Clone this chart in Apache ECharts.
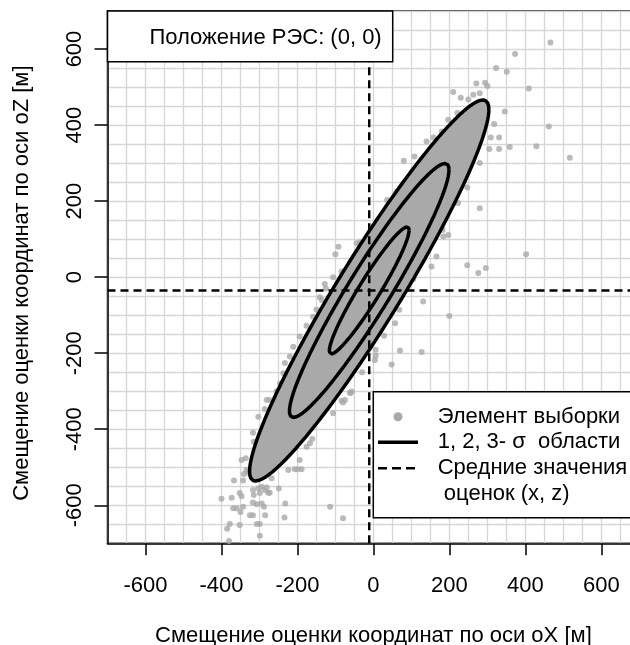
<!DOCTYPE html>
<html><head><meta charset="utf-8">
<script src="https://cdn.jsdelivr.net/npm/echarts@6/dist/echarts.min.js"></script>
<style>html,body{margin:0;padding:0;background:#fff}#c{width:630px;height:645px}</style>
</head><body><div id="c"></div>
<script>
// ---- data ----
const xTicks = [-600, -400, -200, 0, 200, 400, 600];
const zTicks = [-600, -400, -200, 0, 200, 400, 600];
const gridStep = 50;                // light grid every 50 m
const meanXZ = [-11, -35];          // mean of estimates (x, z)
const sigmaXZ = [105, 167];         // std dev of estimates (x, z)
const corrXZ = 0.95;                // correlation x-z
const sigmaLevels = [1, 2, 3];      // 1, 2, 3-sigma regions
const sampleX = [466,373,323,351,409,271,294,300,210,230,346,318,462,309,331,305,331,359,429,517,280,80,108,
  247,280,223,197,402,247,296,276,182,36,61,158,140,180,197,221,250,263,280,
  131,200,70,127,6,6,28,-106,-176,-194,-233,-62,-84,-36,-141,-136,-150,-159,-211,-220,-237,17,4,-57,-75,-106,180,184,166,153,210,-44,-84,68,57,105,118,
  -60,-80,-161,-194,-189,-207,-224,-249,-273,-286,-317,-315,-286,-347,-336,-334,-341,-330,-367,-343,-400,-373,-352,-347,-317,-315,-303,-294,-281,-277,-299,-317,-307,-294,-288,-343,-369,-360,-350,-325,-317,-285,-232,-234,-378,-352,-307,-299,-385,-299,-380,-114,-80,-268,-273,
  -303,-281,-167,-176,-199,-125,-128,-246,-255,-100,-92,-30,48,-190,-240];
const sampleZ = [617,587,550,540,496,509,511,503,487,472,436,403,396,367,367,337,337,342,344,314,300,306,317,
  236,181,195,111,60,31,24,11,124,203,225,367,357,383,414,432,467,480,484,
  -64,-102,-193,-197,-191,-206,-154,0,-128,-156,-226,-304,-325,91,-53,-60,-86,-104,-183,-209,-253,-140,-218,-301,-323,-358,129,107,54,28,195,89,15,-86,-121,-5,40,
  -305,-330,-426,-481,-505,-505,-507,-556,-567,-560,-409,-433,-347,-481,-476,-507,-518,-514,-535,-535,-583,-580,-568,-576,-560,-573,-555,-551,-553,-567,-568,-593,-597,-595,-604,-604,-608,-608,-618,-626,-626,-626,-595,-632,-649,-652,-649,-649,-662,-680,-694,-604,-634,-529,-323,
  -367,-323,-437,-446,-505,-30,-18,-280,-300,60,80,-250,-230,-420,-470];
const meanLineV = [[meanXZ[0], -700], [meanXZ[0], 700]];
const meanLineH = [[-700, meanXZ[1]], [700, meanXZ[1]]];

// ---- sigma-region outlines from (mean, sigma, correlation) ----
function sigmaEllipse(k) {
  const pts = [];
  const n = 180;
  const s = Math.sqrt(1 - corrXZ * corrXZ);
  for (let i = 0; i <= n; i++) {
    const t = 2 * Math.PI * i / n;
    pts.push([meanXZ[0] + k * sigmaXZ[0] * Math.cos(t),
              meanXZ[1] + k * sigmaXZ[1] * (corrXZ * Math.cos(t) + s * Math.sin(t))]);
  }
  return pts;
}
const ellipses = sigmaLevels.map(sigmaEllipse);
const sampleData = sampleX.map((x, i) => [x, sampleZ[i]]);

const FONT = '"Liberation Sans", Arial, sans-serif';
const FS = 22;
const GRAY = '#a9a9a9';
const GRID_COLOR = '#d6d6d6';

const chart = echarts.init(document.getElementById('c'), null, {renderer: 'canvas'});
const mainAxis = (name, ticks, isY) => ({
  type: 'value', min: -700, max: 700,
  name: name, nameLocation: 'middle', nameGap: isY ? 75 : 82, nameRotate: isY ? 90 : 0,
  nameTextStyle: Object.assign({fontFamily: FONT, fontSize: FS, color: '#000'}, isY ? {padding: [0, 12, 0, 0]} : {}),
  axisLine: {show: true, onZero: false, lineStyle: {color: '#000', width: 1.5}},
  axisTick: {show: true, length: isY ? 13 : 12, lineStyle: {color: '#000', width: 1.5}, customValues: ticks},
  axisLabel: Object.assign({show: true, margin: isY ? 22 : 32, fontFamily: FONT, fontSize: FS, color: '#000', customValues: ticks}, isY ? {rotate: 90} : {}),
  splitLine: {show: false}, z: 3
});
const gridAxis = () => ({
  type: 'value', min: -700, max: 700, interval: gridStep,
  axisLine: {show: false}, axisTick: {show: false}, axisLabel: {show: false},
  splitLine: {show: true, lineStyle: {color: GRID_COLOR, width: 1.3}}, z: 0
});
const option = {
  animation: false,
  backgroundColor: '#fff',
  grid: {left: 107.5, top: 11, right: -9.3, bottom: 101.7, show: true, borderColor: '#000', borderWidth: 1.5, backgroundColor: 'transparent', outerBoundsMode: 'none'},
  xAxis: [mainAxis('Смещение оценки координат по оси oX [м]', xTicks, false), gridAxis()],
  yAxis: [mainAxis('Смещение оценки координат по оси oZ [м]', zTicks, true), gridAxis()],
  series: [
    {
      type: 'custom', name: 'fill', z: 2,
      data: [[meanXZ[0], meanXZ[1]]],
      renderItem: function (params, api) {
        const outer = ellipses[ellipses.length - 1];
        return {type: 'polygon', shape: {points: outer.map(p => api.coord(p))}, style: {fill: GRAY}};
      },
      silent: true
    },
    {
      type: 'scatter', name: 'Элемент выборки', data: sampleData, symbol: 'circle', symbolSize: 6,
      itemStyle: {color: GRAY}, z: 3, silent: true
    },
  ].concat(ellipses.map((pts, i) => ({
      type: 'line', name: sigmaLevels[i] + '-σ', data: pts, showSymbol: false, smooth: false,
      lineStyle: {color: '#000', width: 3.5}, z: 5, silent: true
  }))).concat([
    {type: 'line', name: 'meanV', data: meanLineV, showSymbol: false, lineStyle: {color: '#000', width: 2.5, type: [8, 5]}, z: 6, silent: true},
    {type: 'line', name: 'meanH', data: meanLineH, showSymbol: false, lineStyle: {color: '#000', width: 2.5, type: [8, 5]}, z: 6, silent: true}
  ]),
  graphic: [
    {type: 'rect', z: 100, shape: {x: 107.5, y: 11, width: 285.2, height: 50.7}, style: {fill: '#fff', stroke: '#000', lineWidth: 1.5}},
    {type: 'text', z: 101, x: 381.7, y: 38, style: {text: 'Положение РЭС: (0, 0)', font: FS + 'px ' + FONT, fill: '#000', align: 'right', verticalAlign: 'middle'}},
    {type: 'rect', z: 100, shape: {x: 373.3, y: 391.7, width: 280, height: 126}, style: {fill: '#fff', stroke: '#000', lineWidth: 1.5}},
    {type: 'circle', z: 101, shape: {cx: 398, cy: 416.7, r: 4.5}, style: {fill: GRAY}},
    {type: 'line', z: 101, shape: {x1: 378, y1: 442.3, x2: 418, y2: 442.3}, style: {stroke: '#000', lineWidth: 3.5}},
    {type: 'line', z: 101, shape: {x1: 378, y1: 468.3, x2: 418, y2: 468.3}, style: {stroke: '#000', lineWidth: 2.5, lineDash: [9, 5]}},
    {type: 'text', z: 101, x: 437.7, y: 416.7, style: {text: 'Элемент выборки', font: FS + 'px ' + FONT, fill: '#000', align: 'left', verticalAlign: 'middle'}},
    {type: 'text', z: 101, x: 437.7, y: 442.3, style: {text: '1, 2, 3- σ  области', font: FS + 'px ' + FONT, fill: '#000', align: 'left', verticalAlign: 'middle'}},
    {type: 'text', z: 101, x: 437.7, y: 467.8, style: {text: 'Средние значения', font: FS + 'px ' + FONT, fill: '#000', align: 'left', verticalAlign: 'middle'}},
    {type: 'text', z: 101, x: 437.7, y: 493.5, style: {text: ' оценок (x, z)', font: FS + 'px ' + FONT, fill: '#000', align: 'left', verticalAlign: 'middle'}}
  ]
};
chart.setOption(option);
</script></body></html>
